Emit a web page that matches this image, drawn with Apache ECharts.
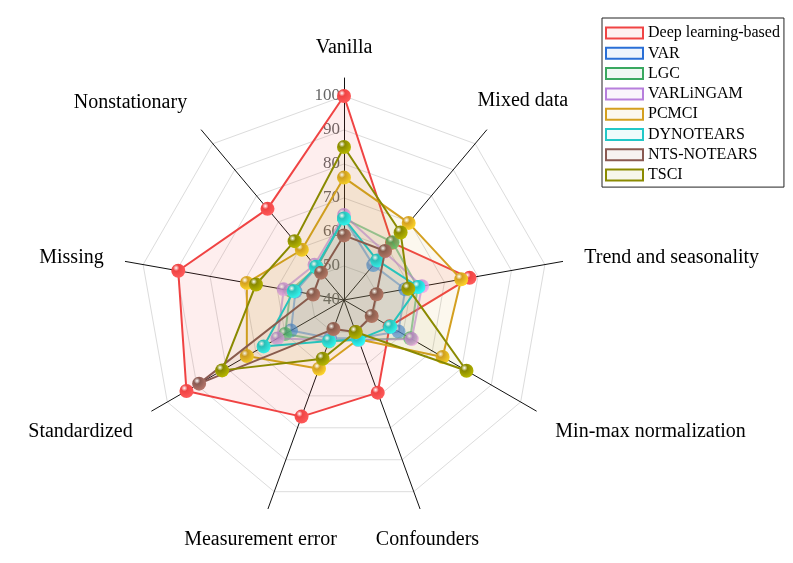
<!DOCTYPE html>
<html>
<head>
<meta charset="utf-8">
<script src="https://cdn.jsdelivr.net/npm/echarts@6.0.0/dist/echarts.min.js"></script>
<style>
  html, body { margin: 0; padding: 0; background: #fff; }
  #main { width: 793px; height: 563px; }
</style>
</head>
<body>
<div id="main"></div>
<script>
// indicator order follows echarts radar (starts at top, goes counter-clockwise)
const categories = ['Vanilla', 'Nonstationary', 'Missing', 'Standardized', 'Measurement error',
  'Confounders', 'Min-max normalization', 'Trend and seasonality', 'Mixed data'];
const axisMin = 40;
const axisMax = 100;

const seriesNames = ['Deep learning-based', 'VAR', 'LGC', 'VARLiNGAM', 'PCMCI', 'DYNOTEARS', 'NTS-NOTEARS', 'TSCI'];
const deepLearning = [100, 75, 89.5, 93.5, 76.5, 69, 55.5, 77.5, 62];
const varVals      = [64, 52.5, 54.5, 58, 52, 52, 58.5, 58.3, 53.4];
const lgcVals      = [64, 52.5, 56, 60, 53, 52.5, 62.5, 62, 62.2];
const varLingam    = [65, 53.5, 58, 62.6, 52.5, 52.5, 63, 63.3, 58.5];
const pcmciVals    = [76, 59.3, 69, 73, 61.5, 52.3, 73.5, 75, 69.6];
const dynotears    = [64, 52.8, 55, 67.3, 52.8, 52.4, 55.7, 62.2, 55.2];
const ntsNotears   = [59, 50.5, 49.2, 89.2, 49.1, 50, 49.4, 49.7, 58.8];
const tsciVals     = [85, 62.6, 66.3, 81.4, 58.4, 50, 81.6, 59.2, 65.9];
const allValues = [deepLearning, varVals, lgcVals, varLingam, pcmciVals, dynotears, ntsNotears, tsciVals];

const colors = ['#f04444', '#2a6fd6', '#3aa860', '#b77fdc', '#d4a020', '#22c8c8', '#8a5a52', '#8a8a00'];
// the first three baselines look washed out in the figure
const lineOpacity = [1, 0.45, 0.55, 0.6, 1, 1, 1, 1];
const fillOpacity = [0.09, 0.04, 0.04, 0.04, 0.08, 0.05, 0.035, 0.06];

const font = 'Liberation Serif, Times New Roman, serif';
const cx = 344, cy = 300;

// name placement per axis (matches the figure's label layout)
const nameStyles = [
  { align: 'center', verticalAlign: 'bottom', padding: [0, 0, -2, 0] },
  { align: 'right', verticalAlign: 'bottom' },
  { align: 'right', verticalAlign: 'middle' },
  { align: 'right', verticalAlign: 'top' },
  { align: 'center', verticalAlign: 'top' },
  { align: 'center', verticalAlign: 'top' },
  { align: 'left', verticalAlign: 'top' },
  { align: 'left', verticalAlign: 'middle' },
  { align: 'center', verticalAlign: 'bottom', padding: [0, 0, 2, 44] }
];

function ball(c) {
  return new echarts.graphic.RadialGradient(0.35, 0.3, 0.75, [
    { offset: 0, color: '#ffffff' },
    { offset: 0.3, color: c },
    { offset: 1, color: echarts.color.lift(c, -0.35) }
  ]);
}

const chart = echarts.init(document.getElementById('main'));
const option = {
  backgroundColor: '#fff',
  animation: false,
  legend: {
    orient: 'vertical',
    left: 602,
    top: 18,
    icon: 'rect',
    itemWidth: 37,
    itemHeight: 11,
    itemGap: 4.3,
    padding: [7, 4, 4, 3],
    borderColor: '#222',
    borderWidth: 1,
    textStyle: { fontFamily: font, fontSize: 16, color: '#000' },
    data: seriesNames.map((n, i) => ({
      name: n,
      itemStyle: {
        color: echarts.color.modifyAlpha(colors[i], 0.08),
        borderColor: colors[i],
        borderWidth: 2,
        opacity: 1
      }
    }))
  },
  radar: [
    {
      // outer spokes + axis names
      center: [cx, cy],
      radius: 222,
      startAngle: 90,
      shape: 'polygon',
      axisNameGap: 22,
      axisName: { color: '#000', fontFamily: font, fontSize: 20 },
      axisLine: { lineStyle: { color: '#111', width: 1 } },
      splitLine: { show: false },
      splitArea: { show: false },
      axisLabel: { show: false },
      indicator: categories.map((c, i) => ({
        name: c,
        min: axisMin,
        max: axisMin + (axisMax - axisMin) * 222 / 204,
        nameTextStyle: nameStyles[i]
      }))
    },
    {
      // grid rings + value labels
      center: [cx, cy],
      radius: 204,
      startAngle: 90,
      shape: 'polygon',
      splitNumber: 6,
      axisName: { show: false },
      axisLine: { show: false },
      splitLine: { lineStyle: { color: '#dcdcdc', width: 1 } },
      splitArea: { show: false },
      axisLabel: {
        show: false,
        color: '#666',
        fontFamily: font,
        fontSize: 17,
        margin: 4
      },
      indicator: categories.map((c, i) => ({
        name: c,
        min: axisMin,
        max: axisMax,
        axisLabel: { show: i === 0 }
      }))
    }
  ],
  series: seriesNames.map((n, i) => ({
    name: n,
    type: 'radar',
    radarIndex: 1,
    symbol: 'circle',
    symbolSize: 14,
    z: 2 + i,
    lineStyle: { color: colors[i], width: 2, opacity: lineOpacity[i] },
    itemStyle: { color: ball(colors[i]), opacity: Math.min(1, lineOpacity[i] + 0.2) },
    areaStyle: { color: colors[i], opacity: fillOpacity[i] },
    data: [{ value: allValues[i], name: n }]
  }))
};
chart.setOption(option);
</script>
</body>
</html>
